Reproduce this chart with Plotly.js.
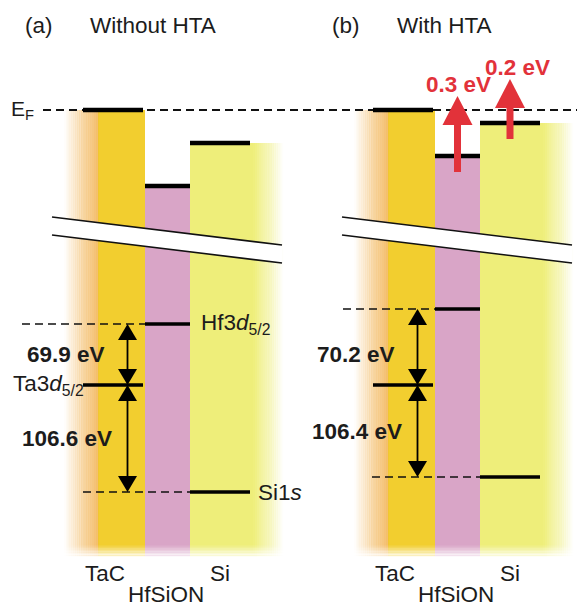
<!DOCTYPE html>
<html>
<head>
<meta charset="utf-8">
<script src="https://cdn.plot.ly/plotly-3.0.1.min.js"></script>
<style>html,body{margin:0;padding:0;background:#fff;}</style>
</head>
<body>
<div id="chart" style="width:577px;height:608px;"></div>
<script>
// ---- data ----
const layers = ['TaC', 'HfSiON', 'Si'];
const panelTags = ['(a)', '(b)'];
const panelTitles = ['Without HTA', 'With HTA'];
// top edge of each layer relative to E_F before annealing (eV, schematic)
const edgeWithout = [0, -0.76, -0.33];
// upward shift of each layer after HTA (eV)
const htaShift = [0, 0.3, 0.2];
const shiftText = ['', '0.3 eV', '0.2 eV'];
// core levels: Hf3d5/2, Ta3d5/2, Si1s
const coreNames = ['Hf3<i>d</i><sub>5/2</sub>', 'Ta3<i>d</i><sub>5/2</sub>', 'Si1<i>s</i>'];
// core-level heights below the axis break (schematic, not to scale)
const coreWithout = [-2.14, -2.75, -3.82];
const coreWith = [-1.99, -2.75, -3.67];
// measured separations: Hf3d - Ta3d, Ta3d - Si1s (eV)
const gapWithout = [69.9, 106.6];
const gapWith = [70.2, 106.4];

// ---- layout geometry (x in drawing units, y in schematic eV) ----
const edgeWith = edgeWithout.map((e, i) => +(e + htaShift[i]).toFixed(3));
const panels = [
  {dx: 0,   edge: edgeWithout, core: coreWithout, gap: gapWithout, guide: [22, 83], tagX: 39,  titleX: 88},
  {dx: 290, edge: edgeWith,    core: coreWith,    gap: gapWith,    guide: [53, 82], tagX: 346, titleX: 395}
];
const COL = {fade0: 64, tac0: 98, hf0: 145, si0: 190, si1: 253, fade1: 283};
const BAR = [[83, 143], [145, 190], [190, 250]];   // level-bar extent per layer
const CORE_LAYER = [1, 0, 2];                      // column of each core level
const BOTTOM = -4.47, FADE_TOP = -4.35;
const ARROW_X = 127.5;
const RED_X = [0, 167.5, 220];
const RED_REACH = [0, 0.76, 0.6];
const GOLD = 'rgb(242,206,47)', PINK = 'rgb(217,165,199)', YELLOW = 'rgb(238,238,122)';
const RED = 'rgb(226,50,58)';
const FONT = 'Liberation Sans, Arial, Helvetica, sans-serif';
const FS = 22.5;

const traces = [];
const shapes = [];
const annotations = [];

function rect(x0, x1, y0, y1, color, layer) {
  shapes.push({type: 'rect', xref: 'x', yref: 'y', x0, x1, y0, y1,
    fillcolor: color, line: {width: 0}, layer: layer || 'below'});
}
// horizontal colour ramp made of thin strips
function hRamp(x0, x1, y0, y1, rgb, a0, a1, n) {
  const w = (x1 - x0) / n;
  for (let k = 0; k < n; k++) {
    const a = a0 + (a1 - a0) * (k + 0.5) / n;
    rect(x0 + k * w, x0 + (k + 1) * w + 0.3, y0, y1, `rgba(${rgb},${a.toFixed(3)})`);
  }
}
function vRamp(x0, x1, y0, y1, rgb, a0, a1, n) {
  const h = (y1 - y0) / n;
  for (let k = 0; k < n; k++) {
    const a = a0 + (a1 - a0) * (k + 0.5) / n;
    rect(x0, x1, y0 + k * h, y0 + (k + 1) * h, `rgba(${rgb},${a.toFixed(3)})`);
  }
}
function line(xs, ys, color, width, dash) {
  traces.push({type: 'scatter', mode: 'lines', x: xs, y: ys, hoverinfo: 'skip', showlegend: false,
    line: {color: color, width: width, dash: dash || 'solid'}});
}
function tri(tipX, tipY, halfW, len, color) {
  const by = tipY - len;
  shapes.push({type: 'path', xref: 'x', yref: 'y', layer: 'above',
    path: `M${tipX},${tipY} L${tipX - halfW},${by} L${tipX + halfW},${by} Z`,
    fillcolor: color, line: {width: 0}});
}
function note(text, x, y, opts) {
  annotations.push(Object.assign({xref: 'x', yref: 'y', x, y, text, showarrow: false,
    font: {family: FONT, size: FS, color: '#1c1c1c'}, xanchor: 'center', yanchor: 'middle'}, opts || {}));
}

// Fermi level guide across both panels
line([43, 577], [0, 0], '#111', 2, '8px,5px');

panels.forEach((p, pi) => {
  const d = p.dx;
  // coloured layer columns
  rect(d + COL.tac0, d + COL.hf0, BOTTOM, p.edge[0], GOLD);
  hRamp(d + COL.fade0, d + COL.tac0, BOTTOM, p.edge[0], '240,168,58', 0, 0.75, 18);
  rect(d + COL.hf0, d + COL.si0, BOTTOM, p.edge[1], PINK);
  rect(d + COL.si0, d + COL.si1, BOTTOM, p.edge[2], YELLOW);
  hRamp(d + COL.si1, d + COL.fade1, BOTTOM, p.edge[2], '238,238,122', 1, 0, 16);
  // soft lower edge
  vRamp(d + COL.fade0 - 2, d + COL.fade1 + 2, FADE_TOP, BOTTOM, '255,255,255', 0, 1, 8);

  // axis break: white band between two slanted lines
  const bx0 = d + 52, bx1 = d + 282;
  shapes.push({type: 'path', xref: 'x', yref: 'y', layer: 'below',
    path: `M${bx0},-1.07 L${bx1},-1.35 L${bx1},-1.53 L${bx0},-1.25 Z`,
    fillcolor: '#fff', line: {width: 0}});
  shapes.push({type: 'line', xref: 'x', yref: 'y', layer: 'below', x0: bx0, y0: -1.07, x1: bx1, y1: -1.35,
    line: {color: '#111', width: 1.6}});
  shapes.push({type: 'line', xref: 'x', yref: 'y', layer: 'below', x0: bx0, y0: -1.25, x1: bx1, y1: -1.53,
    line: {color: '#111', width: 1.6}});

  // layer edges
  layers.forEach((name, i) => {
    line([d + BAR[i][0], d + BAR[i][1]], [p.edge[i], p.edge[i]], '#000', 4.5);
  });

  // core-level guides and bars
  line([d + p.guide[0], d + BAR[1][0]], [p.core[0], p.core[0]], '#111', 1.6, '8px,5px');
  line([d + p.guide[1], d + BAR[2][0]], [p.core[2], p.core[2]], '#111', 1.6, '8px,5px');
  p.core.forEach((c, k) => {
    const b = BAR[CORE_LAYER[k]];
    line([d + b[0], d + b[1]], [c, c], '#000', 3.5);
  });

  // double arrows for the core-level separations
  const ax = d + ARROW_X;
  const hl = 0.16, hw = 9.5;
  [[p.core[0], p.core[1]], [p.core[1], p.core[2]]].forEach(([top, bot]) => {
    shapes.push({type: 'line', xref: 'x', yref: 'y', layer: 'above', x0: ax, x1: ax, y0: top - hl, y1: bot + hl,
      line: {color: '#000', width: 1.8}});
    tri(ax, top, hw, hl, '#000');
    tri(ax, bot, hw, -hl, '#000');
  });
  note(`<b>${p.gap[0]} eV</b>`, d + 66, p.core[1] + 0.31);
  note(`<b>${p.gap[1]} eV</b>`, d + 67, (p.core[1] + p.core[2]) / 2);

  // labels
  note(panelTags[pi], p.tagX, 0.85);
  note(panelTitles[pi], p.titleX, 0.85, {xanchor: 'left'});
  note('TaC', d + 105, -4.63);
  note('Si', d + 220, -4.63);
  note('HfSiON', d + 166, -4.845);

  // shift arrows after annealing
  if (pi === 1) {
    [1, 2].forEach(i => {
      if (!htaShift[i]) return;
      const x = d + RED_X[i];
      const tail = p.edge[i] - 0.16;
      const tip = tail + RED_REACH[i];
      const headLen = 0.29;
      shapes.push({type: 'line', xref: 'x', yref: 'y', layer: 'above', x0: x, x1: x, y0: tail, y1: tip - headLen + 0.02,
        line: {color: RED, width: 7}});
      tri(x, tip, 15, headLen, RED);
      note(`<b>${shiftText[i]}</b>`, x + (i === 1 ? 1 : 7), tip + 0.12,
        {font: {family: FONT, size: FS, color: RED}});
    });
  }
});

// core-level names (panel a)
note(coreNames[0], 199, coreWithout[0], {xanchor: 'left'});
note(coreNames[1], 86, coreWithout[1], {xanchor: 'right'});
note(coreNames[2], 256, coreWithout[2], {xanchor: 'left'});
note('E<sub>F</sub>', 9, 0, {xanchor: 'left', font: {family: FONT, size: 21, color: '#1c1c1c'}});

const hidden = {showgrid: false, zeroline: false, showticklabels: false, ticks: '', showline: false, fixedrange: true};
const layout = {
  width: 577, height: 608,
  margin: {l: 0, r: 0, t: 0, b: 0},
  paper_bgcolor: '#fff', plot_bgcolor: '#fff',
  xaxis: Object.assign({range: [0, 577]}, hidden),
  yaxis: Object.assign({range: [-4.98, 1.10]}, hidden),
  shapes, annotations, showlegend: false
};
Plotly.newPlot('chart', traces, layout, {displayModeBar: false, staticPlot: true});
</script>
</body>
</html>
